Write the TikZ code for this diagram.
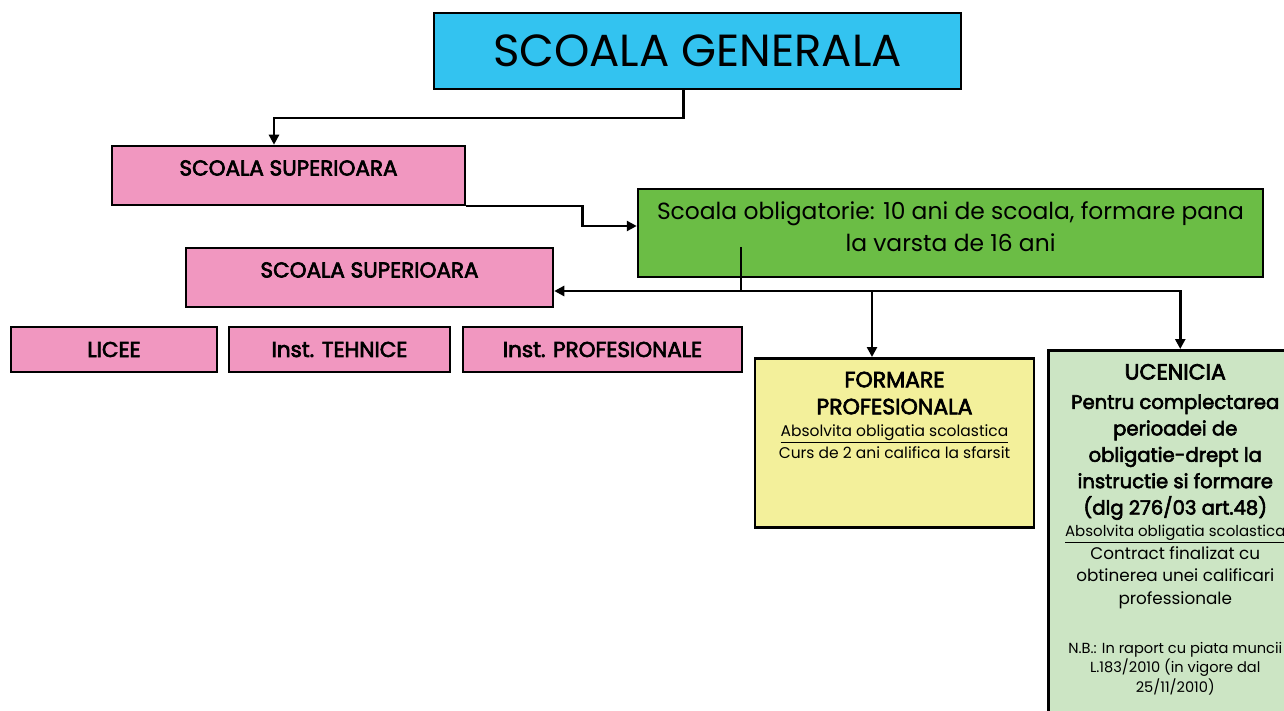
\documentclass[tikz,border=0pt]{standalone}
\usepackage{fontspec}
\setmainfont{Poppins}
\newfontfamily\medfont[FakeBold=3]{Poppins}
\usetikzlibrary{arrows.meta}
\definecolor{genblue}{RGB}{51,195,240}
\definecolor{suppink}{RGB}{241,151,192}
\definecolor{oblgreen}{RGB}{107,189,69}
\definecolor{formyellow}{RGB}{243,240,155}
\definecolor{ucengreen}{RGB}{204,229,196}
\begin{document}
\begin{tikzpicture}[x=1pt,y=-1pt,
    box/.style={draw=black,line width=2.5pt,inner sep=0pt,align=center},
    pinkbox/.style={box,fill=suppink,font=\medfont\fontsize{21.5}{25}\selectfont},
    conn/.style={line width=2.5pt},
    arr/.style={conn,-{Triangle[length=10pt,width=10pt]}}]
    \useasboundingbox (0,0) rectangle (1284,711);
    \clip (0,0) rectangle (1284,711);
    % boxes
    \node[box,fill=genblue,minimum width=527pt,minimum height=76pt,font=\fontsize{45}{50}\selectfont] (gen) at (697.5,51) {SCOALA GENERALA};
    \node[pinkbox,minimum width=353pt,text height=29.5pt,text depth=29.5pt] (sup1) at (288.5,175.5) {SCOALA SUPERIOARA};
    \node[box,fill=oblgreen] (obl) at (950.5,233) {\parbox[t][88pt][t]{625pt}{\centering
        \fontsize{23.4}{32}\selectfont\rule{0pt}{31pt}Scoala obligatorie: 10 ani de scoala, formare pana\\la varsta de 16 ani}};
    \node[pinkbox,minimum width=367pt,text height=29.5pt,text depth=29.5pt] (sup2) at (369.5,277.5) {SCOALA SUPERIOARA};
    \node[pinkbox,minimum width=206pt,minimum height=45pt] (licee) at (114,349.5) {LICEE};
    \node[pinkbox,minimum width=221pt,minimum height=45pt] (teh) at (339.5,349.5) {Inst. TEHNICE};
    \node[pinkbox,minimum width=279pt,minimum height=45pt] (prof) at (602.5,349.5) {Inst. PROFESIONALE};
    \node[box,fill=formyellow,anchor=north] (form) at (894.5,357) {\parbox[t][169pt][t]{279pt}{\centering
        {\medfont\fontsize{22}{27}\selectfont\rule{0pt}{29pt}FORMARE\\PROFESIONALA\par}
        {\fontsize{15.5}{22}\selectfont\underline{Absolvita obligatia scolastica}\\Curs de 2 ani califica la sfarsit\par}}};
    \node[box,fill=ucengreen,anchor=north west] (ucen) at (1047,349) {\parbox[t][380pt][t]{254pt}{\centering
        {\medfont\fontsize{22}{28}\selectfont\rule{0pt}{29.3pt}UCENICIA\par}
        \vspace{3pt}
        {\medfont\fontsize{19.6}{26.4}\selectfont Pentru complectarea\\perioadei de\\obligatie-drept la\\instructie si formare\\(dlg 276/03 art.48)\par}
        {\fontsize{15}{21.7}\selectfont\underline{Absolvita obligatia scolastica}\par}
        {\fontsize{16.8}{22.8}\selectfont Contract finalizat cu\\obtinerea unei calificari\\professionale\par}
        \vspace{29.8pt}
        {\fontsize{14.6}{19.2}\selectfont N.B.: In raport cu piata muncii\\L.183/2010 (in vigore dal\\25/11/2010)\par}}};
    % connectors
    \draw[arr] ([xshift=-14pt]gen.south) -- ++(0,28) -| ([xshift=-14.5pt]sup1.north);
    \draw[arr] (sup1.south east) -- ++(116,0) |- ([yshift=7pt]obl.west);
    \coordinate (stem) at (741,247);
    \coordinate (split) at (741,291);
    \draw[conn] (stem) -- (split);
    \draw[arr] (split) -- (split -| sup2.east);
    \draw[arr] (split) -| ([xshift=-22.5pt]form.north);
    \draw[arr] (split) -| ([xshift=5pt]ucen.north);
\end{tikzpicture}
\end{document}
